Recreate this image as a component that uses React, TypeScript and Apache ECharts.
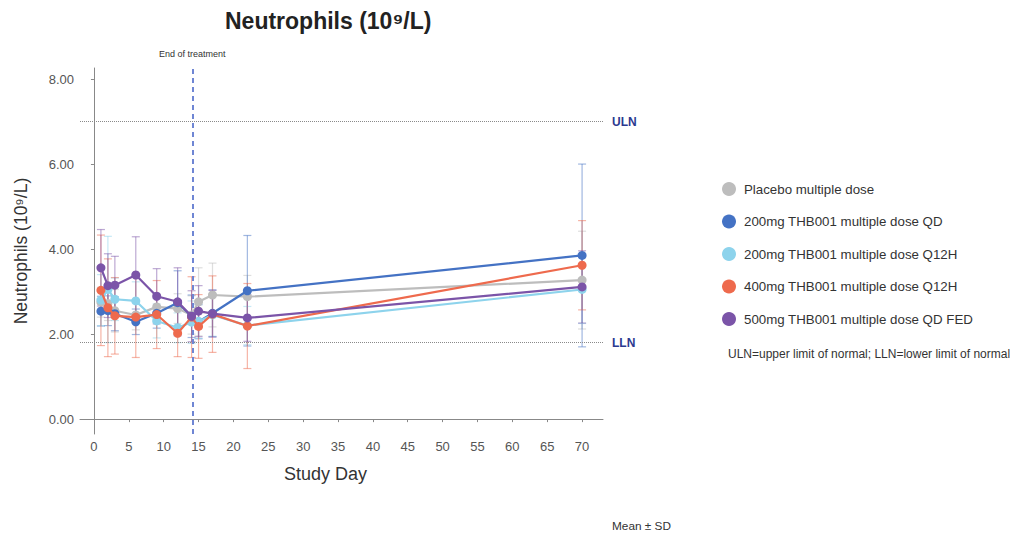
import React, { useEffect, useRef } from "react";
import * as echarts from "echarts";

const days = [1, 2, 3, 6, 9, 12, 14, 15, 17, 22, 70];
const seriesNames = [
  "Placebo multiple dose",
  "200mg THB001 multiple dose QD",
  "200mg THB001 multiple dose Q12H",
  "400mg THB001 multiple dose Q12H",
  "500mg THB001 multiple dose QD FED",
];
const colors = ["#bdbdbd", "#4472c4", "#8dd3ec", "#ee6a4d", "#7b54a8"];

const placeboMean = [2.75, 2.72, 2.55, 2.45, 2.64, 2.6, 2.45, 2.76, 2.92, 2.88, 3.27];
const qd200Mean = [2.54, 2.55, 2.48, 2.29, 2.49, 2.74, 2.42, 2.29, 2.49, 3.02, 3.85];
const q12h200Mean = [2.8, 3.05, 2.82, 2.78, 2.31, 2.15, 2.28, 2.3, 2.45, 2.2, 3.05];
const q12h400Mean = [3.03, 2.62, 2.43, 2.4, 2.46, 2.02, 2.4, 2.18, 2.47, 2.19, 3.62];
const fed500Mean = [3.56, 3.14, 3.15, 3.39, 2.89, 2.76, 2.42, 2.54, 2.48, 2.38, 3.11];

const placeboSd = [0.35, 0.4, 0.5, 0.35, 0.3, 0.35, 0.45, 0.8, 0.75, 0.5, 1.15];
const qd200Sd = [0.35, 0.35, 0.4, 0.3, 0.35, 0.75, 0.5, 0.4, 0.55, 1.3, 2.15];
const q12h200Sd = [0.6, 1.25, 0.5, 0.45, 0.4, 0.35, 0.5, 0.4, 0.5, 0.45, 0.8];
const q12h400Sd = [1.3, 1.15, 0.9, 0.95, 0.8, 0.55, 0.95, 0.75, 0.9, 1.0, 1.05];
const fed500Sd = [0.9, 0.75, 0.68, 0.9, 0.65, 0.8, 0.6, 0.6, 0.55, 0.55, 0.85];

const means = [placeboMean, qd200Mean, q12h200Mean, q12h400Mean, fed500Mean];
const sds = [placeboSd, qd200Sd, q12h200Sd, q12h400Sd, fed500Sd];

const xTicks = [0, 5, 10, 15, 20, 25, 30, 35, 40, 45, 50, 55, 60, 65, 70];
const yTicks = [0, 2, 4, 6, 8];
const ULN = 7.0;
const LLN = 1.8;
const endOfTreatmentDay = 14.1;

const FONT = "Liberation Sans, Arial, sans-serif";

function hexToRgba(hex: string, a: number) {
  const n = parseInt(hex.slice(1), 16);
  return `rgba(${(n >> 16) & 255},${(n >> 8) & 255},${n & 255},${a})`;
}

export default function App() {
  const ref = useRef<HTMLDivElement>(null);
  useEffect(() => {
    if (!ref.current) return;
    const chart = echarts.init(ref.current, null, { renderer: "svg" });

    const errorSeries = means.map((m, si) => ({
      type: "custom",
      name: "err" + si,
      silent: true,
      z: 1,
      data: days.map((d, i) => [d, m[i] - sds[si][i], m[i] + sds[si][i]]),
      renderItem: (params: any, api: any) => {
        const x = api.value(0);
        const lo = api.coord([x, api.value(1)]);
        const hi = api.coord([x, api.value(2)]);
        const hw = 4;
        const style = { stroke: hexToRgba(colors[si], 0.5), lineWidth: 1.2 };
        return {
          type: "group",
          children: [
            { type: "line", shape: { x1: lo[0], y1: lo[1], x2: hi[0], y2: hi[1] }, style },
            { type: "line", shape: { x1: lo[0] - hw, y1: lo[1], x2: lo[0] + hw, y2: lo[1] }, style },
            { type: "line", shape: { x1: hi[0] - hw, y1: hi[1], x2: hi[0] + hw, y2: hi[1] }, style },
          ],
        };
      },
    }));

    const lineSeries: any[] = means.map((m, si) => ({
      type: "line",
      name: seriesNames[si],
      z: 3 + si,
      data: days.map((d, i) => [d, m[i]]),
      symbol: "circle",
      symbolSize: 9,
      itemStyle: { color: colors[si] },
      lineStyle: { color: colors[si], width: 2.2 },
    }));

    lineSeries[0].markLine = {
      silent: true,
      symbol: "none",
      data: [
        {
          yAxis: ULN,
          lineStyle: { type: "dotted", color: "#8a8a8a", width: 1 },
          label: { show: true, position: "end", formatter: "ULN", color: "#2b3990", fontWeight: "bold", fontSize: 12, distance: 9 },
        },
        {
          yAxis: LLN,
          lineStyle: { type: "dotted", color: "#8a8a8a", width: 1 },
          label: { show: true, position: "end", formatter: "LLN", color: "#2b3990", fontWeight: "bold", fontSize: 12, distance: 9 },
        },
        {
          xAxis: endOfTreatmentDay,
          lineStyle: { type: [5, 4], color: "#6f86d4", width: 2 },
          label: { show: true, position: "end", formatter: "End of treatment", color: "#333", fontSize: 9, distance: 10 },
        },
      ],
    };

    chart.setOption({
      animation: false,
      backgroundColor: "#ffffff",
      textStyle: { fontFamily: FONT },
      title: {
        text: "Neutrophils (10⁹/L)",
        left: 220,
        top: 4,
        textStyle: { fontSize: 23, fontWeight: "bold", color: "#222" },
      },
      legend: {
        data: seriesNames,
        orient: "vertical",
        left: 717,
        top: 177,
        icon: "circle",
        itemWidth: 20,
        itemHeight: 14,
        itemGap: 18.5,
        textStyle: { fontSize: 13.3, color: "#333" },
      },
      grid: { left: 80, right: 413, top: 68, bottom: 106, containLabel: false },
      xAxis: {
        type: "value",
        min: -2,
        max: 73,
        name: "Study Day",
        nameLocation: "middle",
        nameGap: 31,
        nameTextStyle: { fontSize: 18, color: "#333", padding: [0, 32, 0, 0] },
        axisLine: { lineStyle: { color: "#888" } },
        axisTick: { show: true, length: 3, customValues: xTicks, lineStyle: { color: "#888" } },
        axisLabel: { customValues: xTicks, fontSize: 13, color: "#555", margin: 6 },
        splitLine: { show: false },
      },
      yAxis: {
        type: "value",
        min: -0.35,
        max: 8.26,
        name: "Neutrophils (10⁹/L)",
        nameLocation: "middle",
        nameGap: 50,
        nameTextStyle: { fontSize: 17.5, color: "#333" },
        axisLine: { show: true, lineStyle: { color: "#888" } },
        axisTick: { show: true, length: 3, customValues: yTicks, lineStyle: { color: "#888" } },
        axisLabel: { customValues: yTicks, fontSize: 13, color: "#555", margin: 6, formatter: (v: number) => v.toFixed(2) },
        splitLine: { show: false },
      },
      graphic: [
        {
          type: "text",
          left: 728,
          top: 348,
          style: { text: "ULN=upper limit of normal; LLN=lower limit of normal", fontSize: 12, fill: "#333", fontFamily: FONT },
        },
        {
          type: "text",
          left: 612,
          top: 520,
          style: { text: "Mean ± SD", fontSize: 11.8, fill: "#333", fontFamily: FONT },
        },
      ],
      series: [...errorSeries, ...lineSeries],
    });
    return () => chart.dispose();
  }, []);
  return <div ref={ref} style={{ position: "fixed", left: 0, top: 0, width: 1016, height: 540 }} />;
}
